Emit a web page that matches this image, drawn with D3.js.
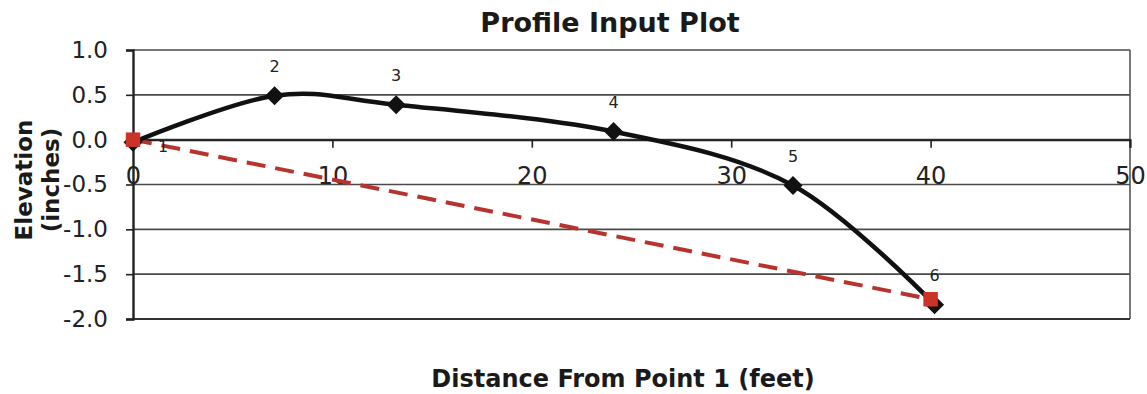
<!DOCTYPE html>
<html>
<head>
<meta charset="utf-8">
<script src="https://cdn.jsdelivr.net/npm/d3@7"></script>
<style>
  html, body { margin: 0; padding: 0; background: #fff; }
  svg { display: block; font-family: "DejaVu Sans", Verdana, sans-serif; }
</style>
</head>
<body>
<svg id="chart" width="1147" height="394"></svg>
<script>
// ---- data ----
const pointLabels = ["1", "2", "3", "4", "5", "6"];
const distance = [0, 7.1, 13.2, 24.1, 33.1, 40.2];
const elevation = [-0.03, 0.49, 0.39, 0.09, -0.51, -1.84];
const refDistance = [0, 40];
const refElevation = [0, -1.78];
const xTicks = [0, 10, 20, 30, 40, 50];
const yTicks = [-2.0, -1.5, -1.0, -0.5, 0.0, 0.5, 1.0];
const chartTitle = "Profile Input Plot";
const xTitle = "Distance From Point 1 (feet)";
const yTitleLines = ["Elevation", "(inches)"];

// ---- layout ----
const svg = d3.select("#chart");
const pLeft = 133, pRight = 1130, pTop = 50, pBottom = 319;
const x = d3.scaleLinear().domain([0, 50]).range([pLeft, pRight]);
const y = d3.scaleLinear().domain([-2, 1]).range([pBottom, pTop]);

const pts = distance.map((d, i) => ({ x: d, y: elevation[i], label: pointLabels[i] }));
const refPts = refDistance.map((d, i) => ({ x: d, y: refElevation[i] }));

// gridlines
svg.append("g").selectAll("line").data(yTicks).join("line")
  .attr("x1", pLeft).attr("x2", pRight)
  .attr("y1", d => y(d)).attr("y2", d => y(d))
  .attr("stroke", "#4a4a4a").attr("stroke-width", 1.6);

// plot border right & bottom
svg.append("line").attr("x1", pRight).attr("x2", pRight).attr("y1", pTop).attr("y2", pBottom)
  .attr("stroke", "#555").attr("stroke-width", 1.6);
svg.append("line").attr("x1", pLeft).attr("x2", pRight).attr("y1", pBottom).attr("y2", pBottom)
  .attr("stroke", "#333").attr("stroke-width", 2.2);

// y axis
const yAxis = svg.append("g").attr("transform", `translate(${pLeft},0)`)
  .call(d3.axisLeft(y).tickValues(yTicks).tickSize(7).tickPadding(18)
    .tickFormat(d => d.toFixed(1)));
yAxis.select(".domain").attr("stroke", "#222").attr("stroke-width", 2.4);
yAxis.selectAll(".tick line").attr("stroke", "#222").attr("stroke-width", 1.6);
yAxis.selectAll(".tick text").attr("font-size", 23).attr("fill", "#222")
  .attr("font-family", "DejaVu Sans, Verdana, sans-serif");

// x axis at y = 0
const xAxis = svg.append("g").attr("transform", `translate(0,${y(0)})`)
  .call(d3.axisBottom(x).tickValues(xTicks).tickSize(8).tickPadding(19)
    .tickFormat(d3.format("d")));
xAxis.select(".domain").attr("stroke", "#222").attr("stroke-width", 2);
xAxis.selectAll(".tick line").attr("stroke", "#222").attr("stroke-width", 1.6);
xAxis.selectAll(".tick text").attr("font-size", 24).attr("fill", "#222")
  .attr("font-family", "DejaVu Sans, Verdana, sans-serif");

// reference dashed line
svg.append("path").datum(refPts)
  .attr("d", d3.line().x(d => x(d.x)).y(d => y(d.y)))
  .attr("fill", "none").attr("stroke", "#b8332e").attr("stroke-width", 4)
  .attr("stroke-dasharray", "19,10");

// profile smoothed line
svg.append("path").datum(pts)
  .attr("d", d3.line().x(d => x(d.x)).y(d => y(d.y)).curve(d3.curveCardinal.tension(0)))
  .attr("fill", "none").attr("stroke", "#111").attr("stroke-width", 4.5);

// diamond markers
svg.append("g").selectAll("path").data(pts).join("path")
  .attr("d", d3.symbol(d3.symbolSquare, 180))
  .attr("transform", d => `translate(${x(d.x)},${y(d.y)}) rotate(45)`)
  .attr("fill", "#111");

// red square markers
svg.append("g").selectAll("path").data(refPts).join("path")
  .attr("d", d3.symbol(d3.symbolSquare, 210))
  .attr("transform", d => `translate(${x(d.x)},${y(d.y)})`)
  .attr("fill", "#cc3328");

// point labels
svg.append("g").selectAll("text").data(pts).join("text")
  .attr("x", (d, i) => x(d.x) + (i === 0 ? 30 : 0))
  .attr("y", (d, i) => y(d.y) + (i === 0 ? 4 : -29))
  .attr("text-anchor", "middle").attr("dominant-baseline", "central")
  .attr("font-size", 16).attr("fill", "#222")
  .text(d => d.label);

// titles
svg.append("text").attr("x", 610).attr("y", 32).attr("text-anchor", "middle")
  .attr("font-size", 27).attr("font-weight", "bold").attr("fill", "#1a1a1a")
  .text(chartTitle);
svg.append("text").attr("x", 623).attr("y", 387).attr("text-anchor", "middle")
  .attr("font-size", 24).attr("font-weight", "bold").attr("fill", "#1a1a1a")
  .text(xTitle);
const yt = svg.append("text").attr("transform", "translate(0,180) rotate(-90)")
  .attr("text-anchor", "middle").attr("font-size", 23).attr("font-weight", "bold")
  .attr("fill", "#1a1a1a");
yt.selectAll("tspan").data(yTitleLines).join("tspan")
  .attr("x", 0).attr("y", (d, i) => 32 + i * 27)
  .text(d => d);
</script>
</body>
</html>
